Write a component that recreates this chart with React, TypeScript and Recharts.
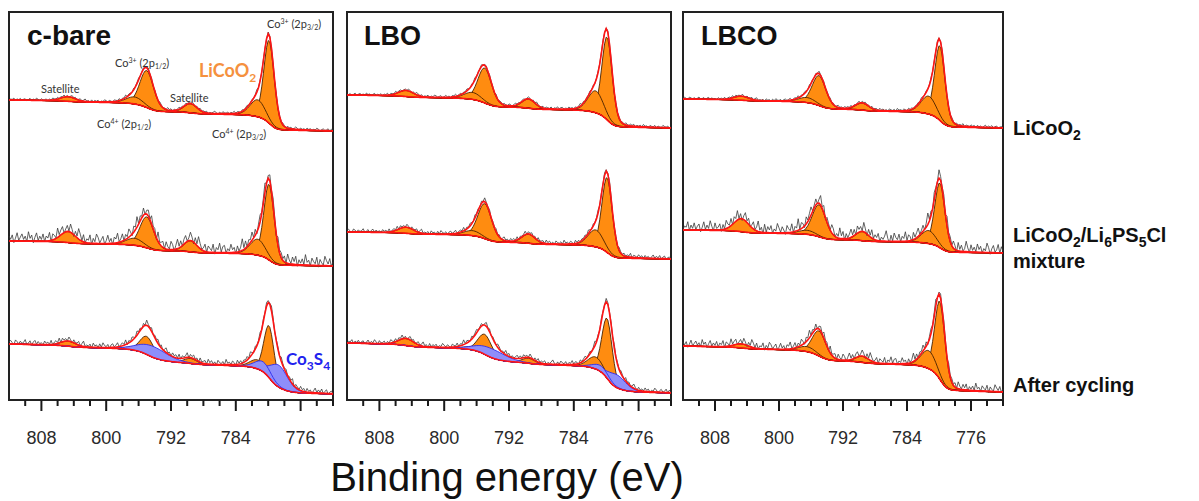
import React from 'react';
import { ComposedChart, Area, Line, XAxis, YAxis, ReferenceArea } from 'recharts';

// binding-energy window (eV), drawn high -> low
const E_MIN = 772;
const E_MAX = 812;
const E_STEP = 0.2;

const TICKS = [810, 808, 806, 804, 802, 800, 798, 796, 794, 792, 790, 788, 786, 784, 782, 780, 778, 776, 774, 772];
const MAJOR_TICKS = [808, 800, 792, 784, 776];

// LiCoO2 components: Co3+ 2p3/2, Co4+ 2p3/2, satellite, Co3+ 2p1/2, Co4+ 2p1/2, satellite
const LCO_CENTERS = [779.9, 781.3, 789.6, 795.0, 796.5, 804.7];
const LCO_FWHM = [1.5, 2.2, 1.9, 2.0, 2.5, 2.2];
// Co3S4 components (after cycling)
const CS_CENTERS = [778.7, 780.6, 794.2];
const CS_FWHM = [2.6, 2.4, 4.2];

// per row: LiCoO2, LiCoO2/Li6PS5Cl mixture, after cycling (plot px)
const CBARE_LCO = [[83, 17, 9, 37, 7, 4.5], [76, 16, 11, 31, 7, 11], [52, 9, 5, 18, 3, 5]];
const CBARE_CS = [[0, 0, 0], [0, 0, 0], [22, 10, 11]];
const CBARE_BG_LEFT = [300, 159, 56];
const CBARE_BG_RIGHT = [269, 134, 6];
const CBARE_NOISE = [0.25, 1.1, 0.55];

const LBO_LCO = [[83, 22, 9, 35, 7, 6], [75, 17, 9, 35, 5, 6], [60, 12, 5, 20, 3, 7]];
const LBO_CS = [[0, 0, 0], [0, 0, 0], [13, 6, 9]];
const LBO_BG_LEFT = [305, 168, 57];
const LBO_BG_RIGHT = [272, 141, 7];
const LBO_NOISE = [0.25, 0.4, 0.45];

const LBCO_LCO = [[75, 18, 7, 30, 5, 4], [65, 13, 9, 32, 4, 13], [78, 18, 6, 25, 5, 4]];
const LBCO_CS = [[0, 0, 0], [0, 0, 0], [0, 0, 0]];
const LBCO_BG_LEFT = [301, 170, 54];
const LBCO_BG_RIGHT = [272, 147, 8];
const LBCO_NOISE = [0.25, 1.1, 0.8];

// measured counts scatter around the fit, one value per grid step
const NOISE_A = [
  3, 7, 1, 9, 4, 2, 8, 5, 0, 6, 10, 3, 5, 1, 7, 4, 9, 2, 6, 3,
  8, 1, 5, 11, 4, 2, 7, 3, 9, 0, 5, 8, 2, 6, 4, 10, 1, 7, 3, 5,
  9, 2, 4, 8, 0, 6, 3, 12, 5, 1, 7, 4, 2, 9, 6, 3, 8, 0, 5, 7,
  2, 10, 4, 6, 1, 8, 3, 5, 9, 2, 7, 0, 4, 11, 6, 3, 5, 1, 8, 4,
  6, 2, 9, 3, 7, 0, 5, 10, 2, 6, 4, 8, 1, 7, 3, 9, 5, 2, 6, 0,
  8, 4, 11, 3, 5, 1, 7, 9, 2, 4, 6, 0, 8, 3, 10, 5, 1, 7, 4, 2,
  9, 6, 3, 8, 0, 5, 7, 2, 12, 4, 6, 1, 9, 3, 5, 8, 0, 4, 7, 2,
  6, 10, 3, 5, 1, 8, 4, 7, 2, 9, 0, 6, 3, 11, 5, 2, 8, 4, 1, 7,
  3, 9, 5, 0, 6, 2, 10, 4, 7, 1, 8, 3, 5, 9, 2, 6, 0, 7, 4, 3,
  8, 1, 5, 10, 3, 6, 2, 9, 4, 0, 7, 5, 2, 8, 3, 6, 1, 9, 4, 5,
  2,
];
const NOISE_B = [
  5, 1, 8, 3, 6, 10, 2, 4, 7, 0, 9, 3, 5, 8, 1, 6, 4, 11, 2, 7,
  3, 6, 0, 9, 4, 8, 2, 5, 10, 1, 7, 3, 6, 4, 9, 0, 5, 8, 2, 7,
  4, 1, 10, 6, 3, 8, 5, 0, 7, 2, 9, 4, 6, 1, 8, 3, 12, 5, 2, 7,
  0, 6, 4, 9, 3, 5, 1, 8, 7, 2, 10, 4, 6, 0, 9, 3, 5, 7, 1, 8,
  4, 2, 6, 11, 3, 7, 0, 5, 9, 4, 2, 8, 6, 1, 7, 3, 10, 5, 0, 6,
  9, 2, 4, 8, 1, 7, 5, 3, 10, 0, 6, 4, 9, 2, 7, 5, 1, 8, 3, 6,
  2, 11, 4, 7, 0, 5, 9, 3, 6, 1, 8, 4, 2, 10, 5, 7, 0, 6, 3, 9,
  4, 1, 8, 5, 2, 7, 10, 3, 6, 0, 9, 4, 5, 1, 8, 2, 7, 11, 3, 6,
  0, 5, 9, 2, 7, 4, 1, 8, 6, 3, 10, 2, 5, 7, 0, 9, 4, 6, 1, 8,
  3, 6, 2, 9, 5, 0, 7, 4, 10, 1, 6, 3, 8, 5, 2, 9, 4, 0, 7, 3,
  6,
];
const NOISE_C = [
  2, 6, 4, 0, 8, 5, 1, 9, 3, 7, 2, 10, 5, 0, 6, 3, 8, 1, 7, 4,
  9, 2, 5, 7, 0, 11, 4, 6, 2, 8, 3, 5, 9, 1, 6, 4, 0, 7, 10, 3,
  5, 8, 2, 6, 1, 9, 4, 3, 7, 0, 5, 10, 2, 8, 4, 6, 1, 7, 3, 9,
  0, 5, 8, 2, 6, 4, 11, 1, 7, 3, 5, 9, 0, 6, 2, 8, 4, 10, 1, 7,
  5, 3, 9, 0, 6, 2, 8, 4, 7, 1, 10, 5, 3, 6, 0, 9, 2, 7, 4, 8,
  1, 6, 3, 10, 5, 0, 7, 2, 9, 4, 6, 1, 8, 3, 5, 11, 2, 7, 0, 6,
  4, 9, 1, 5, 8, 2, 6, 0, 10, 3, 7, 4, 1, 9, 5, 2, 8, 6, 0, 7,
  3, 5, 10, 2, 8, 1, 6, 4, 9, 0, 7, 3, 5, 2, 11, 6, 1, 8, 4, 3,
  7, 0, 5, 9, 2, 6, 4, 8, 1, 10, 3, 7, 5, 0, 9, 2, 6, 4, 8, 1,
  5, 3, 7, 2, 9, 6, 0, 8, 4, 1, 10, 5, 3, 7, 2, 6, 9, 0, 4, 8,
  5,
];

const ORANGE = '#FF8C10';
const ORANGE_EDGE = '#4a2100';
const BLUE = '#8E8EFA';
const BLUE_EDGE = '#2A2AF0';
const RED = '#FF1414';
const SANS = '"Liberation Sans", Arial, sans-serif';
const CALIBRI_LIKE = 'Lato, "Open Sans", sans-serif';

const PLOT_TOP = 12;
const PLOT_H = 388;
const AXIS_H = 50;
const SHIRLEY_LIN = 0.15;

const ENERGIES = Array.from({ length: Math.round((E_MAX - E_MIN) / E_STEP) + 1 }, (_, i) => +(E_MIN + i * E_STEP).toFixed(2));

// pseudo-Voigt line shape, 80% Gaussian
function voigt(e: number, c: number, w: number) {
  const d = (e - c) / w;
  return 0.8 * Math.exp(-4 * Math.LN2 * d * d) + 0.2 / (1 + 4 * d * d);
}

interface PanelSpec {
  lco: number[][];
  cs: number[][];
  bgLeft: number[];
  bgRight: number[];
  noiseAmp: number[];
  noise: number[][];
}

function buildPanel(p: PanelSpec) {
  const rows = p.lco.map((heights, r) => {
    const orange = ENERGIES.map((e) => heights.map((h, k) => h * voigt(e, LCO_CENTERS[k], LCO_FWHM[k])));
    const blue = ENERGIES.map((e) => p.cs[r].map((h, k) => h * voigt(e, CS_CENTERS[k], CS_FWHM[k])));
    const env = ENERGIES.map((_, i) => orange[i].reduce((a, b) => a + b, 0) + blue[i].reduce((a, b) => a + b, 0));
    // Shirley-type background: rises with the integrated peak area toward high BE
    let acc = 0;
    const cum = env.map((v) => (acc += v));
    const bg = ENERGIES.map((e, i) =>
      p.bgRight[r] + (p.bgLeft[r] - p.bgRight[r]) *
        ((1 - SHIRLEY_LIN) * cum[i] / acc + SHIRLEY_LIN * (e - E_MIN) / (E_MAX - E_MIN)));
    return { orange, blue, env, bg };
  });

  return ENERGIES.map((e, i) => {
    const pt: Record<string, number | number[]> = { e };
    rows.forEach((rd, r) => {
      const bg = rd.bg[i];
      rd.orange[i].forEach((v, k) => { pt[`o${r}_${k}`] = [bg, bg + v]; });
      rd.blue[i].forEach((v, k) => { pt[`b${r}_${k}`] = [bg, bg + v]; });
      pt[`fit${r}`] = bg + rd.env[i];
      pt[`bg${r}`] = bg;
      pt[`raw${r}`] = bg + rd.env[i] + p.noiseAmp[r] * (p.noise[r][i] - 1.5);
    });
    return pt;
  });
}

function EnergyTick(props: any) {
  const { x, y, payload } = props;
  const major = MAJOR_TICKS.includes(payload.value);
  return (
    <g>
      <line x1={x} x2={x} y1={y} y2={y + (major ? 11 : 6)} stroke="#1a1a1a" strokeWidth={2} />
      {major && (
        <text x={x} y={y + 44} textAnchor="middle" fontSize={18} fontFamily={SANS} fill="#2a2a2a">
          {payload.value}
        </text>
      )}
    </g>
  );
}

function Panel({ spec, left, width }: { spec: PanelSpec; left: number; width: number }) {
  const data = buildPanel(spec);
  return (
    <div style={{ position: 'absolute', left: left - 4, top: 0 }}>
      <ComposedChart
        width={width + 8}
        height={PLOT_TOP + PLOT_H + AXIS_H}
        data={data}
        margin={{ top: PLOT_TOP, right: 4, bottom: 0, left: 4 }}
      >
        <XAxis
          dataKey="e"
          type="number"
          domain={[E_MIN, E_MAX]}
          reversed
          ticks={TICKS}
          interval={0}
          height={AXIS_H}
          axisLine={false}
          tickLine={false}
          tickSize={0}
          tickMargin={0}
          tick={<EnergyTick />}
        />
        <YAxis type="number" domain={[0, PLOT_H]} hide allowDataOverflow />
        {spec.lco.map((heights, r) => (
          <React.Fragment key={`row${r}`}>
            {heights.map((_, k) => (
              <Area
                key={`o${r}_${k}`}
                dataKey={`o${r}_${k}`}
                type="linear"
                fill={ORANGE}
                fillOpacity={1}
                stroke={ORANGE_EDGE}
                strokeWidth={0.9}
                dot={false}
                activeDot={false}
                isAnimationActive={false}
              />
            ))}
            {spec.cs[r].some((h) => h > 0) && spec.cs[r].map((_, k) => (
              <Area
                key={`b${r}_${k}`}
                dataKey={`b${r}_${k}`}
                type="linear"
                fill={BLUE}
                fillOpacity={1}
                stroke={BLUE_EDGE}
                strokeWidth={0.9}
                dot={false}
                activeDot={false}
                isAnimationActive={false}
              />
            ))}
            <Line dataKey={`raw${r}`} type="linear" stroke="#3a3a3a" strokeWidth={0.8} dot={false} activeDot={false} isAnimationActive={false} />
            <Line dataKey={`fit${r}`} type="linear" stroke={RED} strokeWidth={1.6} dot={false} activeDot={false} isAnimationActive={false} />
            <Line dataKey={`bg${r}`} type="linear" stroke={RED} strokeWidth={1.6} dot={false} activeDot={false} isAnimationActive={false} />
          </React.Fragment>
        ))}
        <ReferenceArea x1={E_MAX} x2={E_MIN} y1={0} y2={PLOT_H} fill="none" stroke="#222" strokeWidth={2} ifOverflow="visible" />
      </ComposedChart>
    </div>
  );
}

const CBARE: PanelSpec = {
  lco: CBARE_LCO, cs: CBARE_CS, bgLeft: CBARE_BG_LEFT, bgRight: CBARE_BG_RIGHT,
  noiseAmp: CBARE_NOISE, noise: [NOISE_A, NOISE_B, NOISE_C],
};
const LBO: PanelSpec = {
  lco: LBO_LCO, cs: LBO_CS, bgLeft: LBO_BG_LEFT, bgRight: LBO_BG_RIGHT,
  noiseAmp: LBO_NOISE, noise: [NOISE_B, NOISE_C, NOISE_A],
};
const LBCO: PanelSpec = {
  lco: LBCO_LCO, cs: LBCO_CS, bgLeft: LBCO_BG_LEFT, bgRight: LBCO_BG_RIGHT,
  noiseAmp: LBCO_NOISE, noise: [NOISE_C, NOISE_A, NOISE_B],
};

// "Co3+ (2p3/2)" style peak tag
function PeakTag({ x, y, ion, orbital }: { x: number; y: number; ion: string; orbital: string }) {
  return (
    <text x={x} y={y} fontSize={11} fontFamily={CALIBRI_LIKE} fill="#333">
      Co<tspan dy={-4} fontSize={7}>{ion}</tspan>
      <tspan dy={4}> (2p</tspan>
      <tspan dy={2} fontSize={7}>{orbital}</tspan>
      <tspan dy={-2}>)</tspan>
    </text>
  );
}

export default function App() {
  return (
    <div style={{ position: 'absolute', left: 0, top: 0, width: 1199, height: 501, background: '#fff' }}>
      <Panel spec={CBARE} left={9} width={324} />
      <Panel spec={LBO} left={347} width={324} />
      <Panel spec={LBCO} left={683} width={320} />

      <svg width={1199} height={501} style={{ position: 'absolute', left: 0, top: 0, pointerEvents: 'none' }}>
        <g fontFamily={SANS} fontWeight="bold" fill="#111">
          <text x={27} y={45} fontSize={28}>c-bare</text>
          <text x={364} y={45} fontSize={27}>LBO</text>
          <text x={701} y={45} fontSize={27}>LBCO</text>
        </g>

        <PeakTag x={267} y={28} ion="3+" orbital="3/2" />
        <PeakTag x={115} y={67} ion="3+" orbital="1/2" />
        <PeakTag x={97} y={128} ion="4+" orbital="1/2" />
        <PeakTag x={212} y={138} ion="4+" orbital="3/2" />
        <text x={41} y={93} fontSize={11} fontFamily={CALIBRI_LIKE} fill="#333">Satellite</text>
        <text x={170} y={102} fontSize={11} fontFamily={CALIBRI_LIKE} fill="#333">Satellite</text>
        <text x={199} y={77} fontSize={18} fontFamily={CALIBRI_LIKE} fontWeight="bold" fill="#F5913E">
          LiCoO<tspan dy={5} fontSize={12}>2</tspan>
        </text>
        <text x={286} y={365} fontSize={17} fontFamily={CALIBRI_LIKE} fontWeight="bold" fill="#2222EE">
          Co<tspan dy={5} fontSize={12}>3</tspan><tspan dy={-5}>S</tspan><tspan dy={5} fontSize={12}>4</tspan>
        </text>

        <g fontFamily={SANS} fontWeight="bold" fill="#111" fontSize={20}>
          <text x={1013} y={135}>
            LiCoO<tspan dy={5} fontSize={14}>2</tspan>
          </text>
          <text x={1013} y={242}>
            LiCoO<tspan dy={5} fontSize={14}>2</tspan>
            <tspan dy={-5}>/Li</tspan><tspan dy={5} fontSize={14}>6</tspan>
            <tspan dy={-5}>PS</tspan><tspan dy={5} fontSize={14}>5</tspan>
            <tspan dy={-5}>Cl</tspan>
          </text>
          <text x={1013} y={268}>mixture</text>
          <text x={1013} y={392}>After cycling</text>
        </g>

        <text x={507} y={491} textAnchor="middle" fontSize={40} fontFamily={SANS} fill="#111">
          Binding energy (eV)
        </text>
      </svg>
    </div>
  );
}
